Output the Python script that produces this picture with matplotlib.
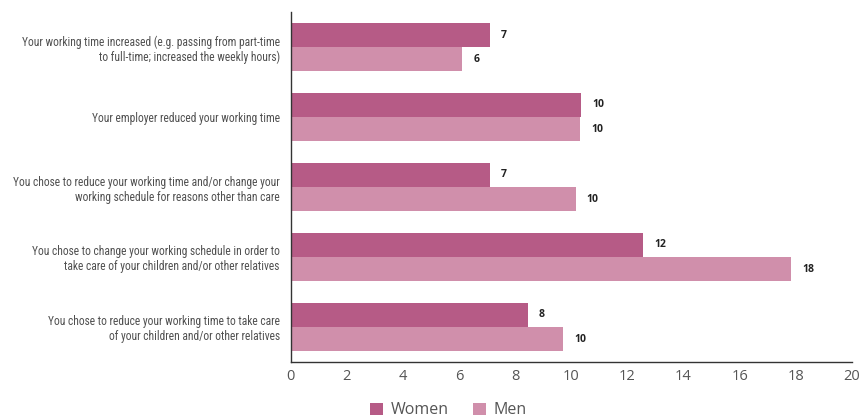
import matplotlib
matplotlib.use("Agg")
import matplotlib.pyplot as plt
import numpy as np
from matplotlib import font_manager

categories = [
    "Your working time increased (e.g. passing from part-time\nto full-time; increased the weekly hours)",
    "Your employer reduced your working time",
    "You chose to reduce your working time and/or change your\nworking schedule for reasons other than care",
    "You chose to change your working schedule in order to\ntake care of your children and/or other relatives",
    "You chose to reduce your working time to take care\nof your children and/or other relatives",
]
women = [7.1, 10.35, 7.1, 12.55, 8.45]
men = [6.1, 10.3, 10.15, 17.85, 9.7]
women_labels = ["7", "10", "7", "12", "8"]
men_labels = ["6", "10", "10", "18", "10"]
xticks = [0, 2, 4, 6, 8, 10, 12, 14, 16, 18, 20]

names = {f.name for f in font_manager.fontManager.ttflist}


def pick(cands, default="DejaVu Sans"):
    for c in cands:
        if c in names:
            return c
    return default


narrow = pick(["Roboto Condensed", "PT Sans Narrow", "Fira Sans Condensed",
               "Archivo Narrow", "Liberation Sans Narrow"])
base = pick(["Open Sans", "Noto Sans", "DejaVu Sans"])

c_women = "#b65b86"
c_men = "#d08fab"

fig = plt.figure(figsize=(8.63, 4.17), dpi=100)
ax = fig.add_axes([0.337, 0.132, 0.650, 0.839])

y = np.arange(len(categories))
h = 0.345
ax.barh(y - h / 2, women, height=h, color=c_women, label="Women")
ax.barh(y + h / 2, men, height=h, color=c_men, label="Men")

for yi, v, t in zip(y, women, women_labels):
    ax.text(v + 0.4, yi - h / 2, t, va="center", ha="left", fontsize=7.5,
            fontweight="bold", color="#222222", family=base)
for yi, v, t in zip(y, men, men_labels):
    ax.text(v + 0.4, yi + h / 2, t, va="center", ha="left", fontsize=7.5,
            fontweight="bold", color="#222222", family=base)

ax.set_ylim(len(categories) - 0.5, -0.5)
ax.set_xlim(0, 20)
ax.set_xticks(xticks)
ax.set_xticklabels([str(t) for t in xticks], fontsize=10.5, color="#555555", family=base)
ax.set_yticks(y)
ax.set_yticklabels(categories, fontsize=8.3, color="#505050", family=narrow)
ax.tick_params(axis="both", length=0)
ax.tick_params(axis="x", pad=5)
ax.tick_params(axis="y", pad=8)
for s in ["top", "right"]:
    ax.spines[s].set_visible(False)
for s in ["left", "bottom"]:
    ax.spines[s].set_color("#333333")
    ax.spines[s].set_linewidth(1.0)

handles, labels = ax.get_legend_handles_labels()
fig.legend(handles, labels, loc="lower center", bbox_to_anchor=(0.52, -0.038),
           ncol=2, frameon=False, prop={"family": base, "size": 11.5},
           handlelength=0.8, handleheight=0.8,
           columnspacing=1.5, handletextpad=0.5, labelcolor="#555555")

fig.savefig("out.png", dpi=100)
